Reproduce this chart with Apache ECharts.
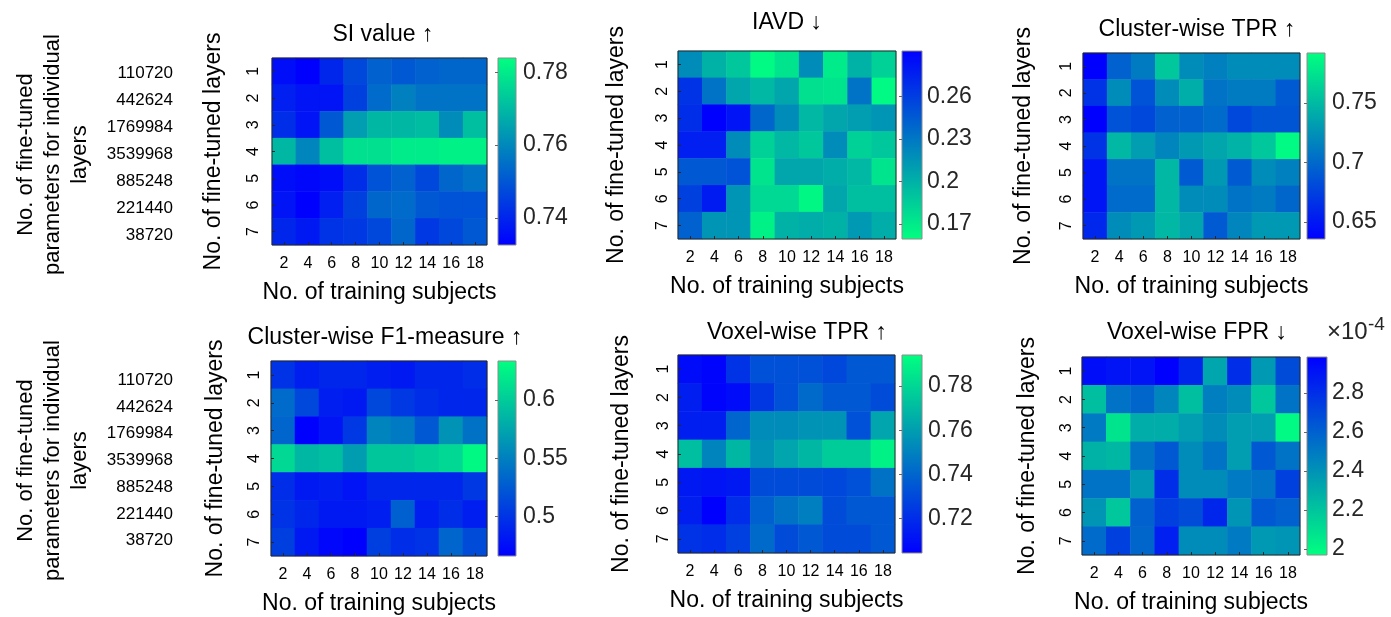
<!DOCTYPE html>
<html><head><meta charset="utf-8">
<script src="https://cdn.jsdelivr.net/npm/echarts@6/dist/echarts.min.js"></script>
<style>html,body{margin:0;padding:0;background:#fff}#c{width:1391px;height:617px}</style>
</head><body><div id="c"></div>
<script>
// ---------- data ----------
const xCategories = ['2','4','6','8','10','12','14','16','18'];
const yCategories = ['1','2','3','4','5','6','7'];
const paramLabels = ['110720','442624','1769984','3539968','885248','221440','38720'];

const siValue = [
  [0.7352,0.7326,0.7403,0.7470,0.7521,0.7506,0.7521,0.7531,0.7531],
  [0.7388,0.7367,0.7367,0.7454,0.7541,0.7583,0.7557,0.7557,0.7557],
  [0.7418,0.7367,0.7506,0.7644,0.7695,0.7695,0.7706,0.7608,0.7711],
  [0.7695,0.7593,0.7711,0.7777,0.7777,0.7798,0.7798,0.7813,0.7813],
  [0.7352,0.7341,0.7352,0.7418,0.7490,0.7521,0.7470,0.7531,0.7557],
  [0.7367,0.7326,0.7388,0.7454,0.7531,0.7541,0.7506,0.7490,0.7490],
  [0.7403,0.7377,0.7429,0.7439,0.7470,0.7531,0.7439,0.7470,0.7506]
];
const iavd = [
  [0.2192,0.1993,0.1886,0.1621,0.1727,0.2192,0.1700,0.1993,0.1833],
  [0.2657,0.2325,0.2059,0.1966,0.2059,0.1753,0.1727,0.2325,0.1621],
  [0.2684,0.2923,0.2817,0.2391,0.2192,0.1966,0.2059,0.2099,0.2152],
  [0.2764,0.2764,0.2192,0.1833,0.1966,0.1886,0.2192,0.1833,0.1886],
  [0.2458,0.2458,0.2498,0.1727,0.2059,0.2059,0.2019,0.1966,0.1727],
  [0.2591,0.2790,0.2152,0.1793,0.1793,0.1634,0.2059,0.1926,0.1926],
  [0.2418,0.2152,0.2152,0.1660,0.1993,0.2019,0.1993,0.2126,0.2019]
];
const clusterTpr = [
  [0.6360,0.6953,0.7109,0.7577,0.7218,0.7140,0.7218,0.7218,0.7218],
  [0.6672,0.7218,0.6859,0.7218,0.7421,0.7062,0.7109,0.7109,0.6906],
  [0.6360,0.6859,0.6797,0.6953,0.6953,0.7015,0.6797,0.6875,0.6875],
  [0.6672,0.7483,0.7327,0.7171,0.7296,0.7374,0.7452,0.7577,0.7889],
  [0.6485,0.7062,0.7062,0.7483,0.6906,0.7296,0.6906,0.7218,0.7140],
  [0.6485,0.7015,0.7015,0.7483,0.7218,0.7218,0.7062,0.7109,0.6984],
  [0.6594,0.7218,0.7296,0.7483,0.7374,0.6906,0.7171,0.7296,0.7296]
];
const clusterF1 = [
  [0.4994,0.4860,0.4910,0.4910,0.4860,0.4827,0.4910,0.4910,0.4961],
  [0.5361,0.5128,0.4860,0.4827,0.5128,0.5027,0.4961,0.4910,0.4910],
  [0.5328,0.4660,0.4794,0.5027,0.5528,0.5462,0.5245,0.5629,0.5412],
  [0.6080,0.5862,0.5913,0.5695,0.5963,0.5963,0.6029,0.6080,0.6297],
  [0.4961,0.4827,0.4860,0.4794,0.4910,0.4910,0.4910,0.4910,0.5027],
  [0.4994,0.4910,0.4827,0.4827,0.4860,0.5295,0.4860,0.4961,0.4860],
  [0.5078,0.4827,0.4710,0.4660,0.5078,0.4961,0.4994,0.5328,0.5161]
];
const voxelTpr = [
  [0.7085,0.7058,0.7220,0.7328,0.7328,0.7328,0.7292,0.7355,0.7355],
  [0.7148,0.7058,0.7085,0.7238,0.7328,0.7418,0.7355,0.7355,0.7310],
  [0.7148,0.7148,0.7400,0.7535,0.7535,0.7562,0.7562,0.7328,0.7625],
  [0.7715,0.7508,0.7688,0.7562,0.7625,0.7688,0.7760,0.7760,0.7895],
  [0.7130,0.7112,0.7130,0.7310,0.7310,0.7310,0.7292,0.7328,0.7445],
  [0.7148,0.7040,0.7202,0.7382,0.7445,0.7490,0.7310,0.7355,0.7355],
  [0.7220,0.7202,0.7265,0.7418,0.7310,0.7355,0.7310,0.7310,0.7355]
];
const voxelFpr = [ // x 1e-4
  [2.934,2.904,2.904,2.985,2.833,2.325,2.802,2.376,2.681],
  [2.224,2.528,2.579,2.457,2.224,2.478,2.427,2.193,2.528],
  [2.498,2.072,2.295,2.295,2.356,2.427,2.356,2.356,1.990],
  [2.275,2.254,2.528,2.630,2.427,2.528,2.356,2.630,2.528],
  [2.528,2.528,2.376,2.802,2.427,2.427,2.498,2.528,2.731],
  [2.396,2.193,2.599,2.731,2.681,2.833,2.396,2.630,2.599],
  [2.559,2.731,2.579,2.863,2.427,2.427,2.498,2.376,2.396]
];

const siRange = [0.7326, 0.7839],  siTicks = [0.74, 0.76, 0.78];
const iavdRange = [0.1594, 0.2923], iavdTicks = [0.17, 0.2, 0.23, 0.26];
const ctprRange = [0.6357, 0.7920], ctprTicks = [0.65, 0.7, 0.75];
const f1Range = [0.4663, 0.6334],   f1Ticks = [0.5, 0.55, 0.6];
const vtprRange = [0.7043, 0.7941], vtprTicks = [0.72, 0.74, 0.76, 0.78];
const vfprRange = [1.969, 2.985],   vfprTicks = [2, 2.2, 2.4, 2.6, 2.8];

// ---------- layout ----------
const FONT = '"Liberation Sans", Arial, Helvetica, sans-serif';
const BLUE = '#0000ff', GREEN = '#00ff80';

const panels = [
  {title:'SI value ↑', data:siValue, range:siRange, ticks:siTicks, rev:false,
   grid:[272,58,215,187], cb:[498,58,18,187], tx:383, ty:35, yLm:10, yNg:47, cbM:7},
  {title:'IAVD ↓', data:iavd, range:iavdRange, ticks:iavdTicks, rev:true,
   grid:[678,51,218,188], cb:[902,51,20,188], tx:787, ty:23, yLm:7, yNg:50, cbM:5},
  {title:'Cluster-wise TPR ↑', data:clusterTpr, range:ctprRange, ticks:ctprTicks, rev:false,
   grid:[1083,53,217,186], cb:[1307,53,18,186], tx:1197, ty:30, yLm:8, yNg:48, cbM:7},
  {title:'Cluster-wise F1-measure ↑', data:clusterF1, range:f1Range, ticks:f1Ticks, rev:false,
   grid:[271,361,216,195], cb:[498,361,18,195], tx:385, ty:338, yLm:8, yNg:44, cbM:7},
  {title:'Voxel-wise TPR ↑', data:voxelTpr, range:vtprRange, ticks:vtprTicks, rev:false,
   grid:[678,355,217,198], cb:[902,355,20,198], tx:797, ty:333, yLm:6, yNg:45, cbM:6},
  {title:'Voxel-wise FPR ↓', data:voxelFpr, range:vfprRange, ticks:vfprTicks, rev:true,
   grid:[1082,357,218,198], cb:[1307,357,20,198], tx:1197, ty:333, yLm:7, yNg:43, cbM:5}
];
const paramGrids = [[177,60,1,189],[177,367,1,187]];

// ---------- build ----------
const grids = [], xAxes = [], yAxes = [], series = [], visualMaps = [], graphics = [];
const nameStyle = {fontSize:23, color:'#000', fontFamily:FONT};
const tickStyle = {show:true, inside:true, alignWithLabel:true, length:3, lineStyle:{color:'#262626', width:1}};

panels.forEach(p => {
  const gi = grids.length;
  grids.push({left:p.grid[0], top:p.grid[1], width:p.grid[2], height:p.grid[3],
    show:true, z:10, borderColor:'#262626', borderWidth:1, backgroundColor:'transparent'});
  xAxes.push({type:'category', gridIndex:gi, data:xCategories,
    name:'No. of training subjects', nameLocation:'middle', nameGap:36, nameTextStyle:nameStyle,
    axisLine:{show:false}, axisTick:tickStyle, splitLine:{show:false},
    axisLabel:{interval:0, fontSize:16, color:'#000', margin:11, fontFamily:FONT}, z:11});
  yAxes.push({type:'category', gridIndex:gi, data:yCategories, inverse:true,
    name:'No. of fine-tuned layers', nameLocation:'middle', nameRotate:90, nameGap:p.yNg, nameTextStyle:nameStyle,
    axisLine:{show:false}, axisTick:tickStyle, splitLine:{show:false},
    axisLabel:{interval:0, rotate:90, fontSize:16, color:'#000', margin:p.yLm, fontFamily:FONT}, z:11});
  const cells = [];
  p.data.forEach((row, r) => row.forEach((v, c) => cells.push([c, r, v])));
  const si = series.length;
  series.push({type:'heatmap', xAxisIndex:gi, yAxisIndex:gi, data:cells, emphasis:{disabled:true}, silent:true});
  visualMaps.push({type:'continuous', show:false, seriesIndex:si, dimension:2,
    min:p.range[0], max:p.range[1], inRange:{color: p.rev ? [GREEN, BLUE] : [BLUE, GREEN]}});

  // colorbar
  const ci = grids.length;
  grids.push({left:p.cb[0], top:p.cb[1], width:p.cb[2], height:p.cb[3],
    show:true, z:10, borderColor:'#8c8c8c', borderWidth:1, backgroundColor:'transparent'});
  xAxes.push({type:'value', gridIndex:ci, min:0, max:1, show:false});
  yAxes.push({type:'value', gridIndex:ci, position:'right', min:p.range[0], max:p.range[1],
    axisLine:{show:false}, splitLine:{show:false},
    axisTick:{show:true, inside:true, length:3, customValues:p.ticks, lineStyle:{color:'#666'}},
    axisLabel:{customValues:p.ticks, fontSize:23, color:'#262626', margin:p.cbM, fontFamily:FONT}, z:11});
  const topC = p.rev ? BLUE : GREEN, botC = p.rev ? GREEN : BLUE;
  series.push({type:'custom', xAxisIndex:ci, yAxisIndex:ci, silent:true,
    data:[[0.5, p.range[0], p.range[1]]], encode:{x:0, y:[1,2]},
    renderItem:(params, api) => {
      const a = api.coord([0, api.value(2)]);
      const b = api.coord([1, api.value(1)]);
      return {type:'rect', shape:{x:a[0], y:a[1], width:b[0]-a[0], height:b[1]-a[1]},
        style:{fill:new echarts.graphic.LinearGradient(0,0,0,1,[{offset:0,color:topC},{offset:1,color:botC}])}};
    }});

  graphics.push({type:'text', x:p.tx, y:p.ty, z:20,
    style:{text:p.title, fontSize:23, fontFamily:FONT, fill:'#000', textAlign:'center', textVerticalAlign:'middle'}});
});

paramGrids.forEach(g => {
  const gi = grids.length;
  grids.push({left:g[0], top:g[1], width:g[2], height:g[3], show:false});
  xAxes.push({type:'value', gridIndex:gi, show:false});
  yAxes.push({type:'category', gridIndex:gi, data:paramLabels, inverse:true,
    axisLine:{show:false}, axisTick:{show:false}, splitLine:{show:false},
    axisLabel:{interval:0, fontSize:17, color:'#000', margin:4, fontFamily:FONT},
    name:'No. of fine-tuned\nparameters for individual\nlayers', nameLocation:'middle', nameRotate:90, nameGap:84,
    nameTextStyle:{fontSize:22, lineHeight:27, color:'#000', fontFamily:FONT, align:'center'}});
});

graphics.push({type:'text', x:1327, y:332, z:20,
  style:{text:'×10', fontSize:24, fontFamily:FONT, fill:'#262626', textAlign:'left', textVerticalAlign:'middle'}});
graphics.push({type:'text', x:1368, y:325, z:20,
  style:{text:'-4', fontSize:19, fontFamily:FONT, fill:'#262626', textAlign:'left', textVerticalAlign:'middle'}});

const chart = echarts.init(document.getElementById('c'));
chart.setOption({
  animation:false,
  backgroundColor:'#fff',
  textStyle:{fontFamily:FONT},
  grid:grids, xAxis:xAxes, yAxis:yAxes, visualMap:visualMaps, series:series, graphic:graphics
});
</script>
</body></html>
